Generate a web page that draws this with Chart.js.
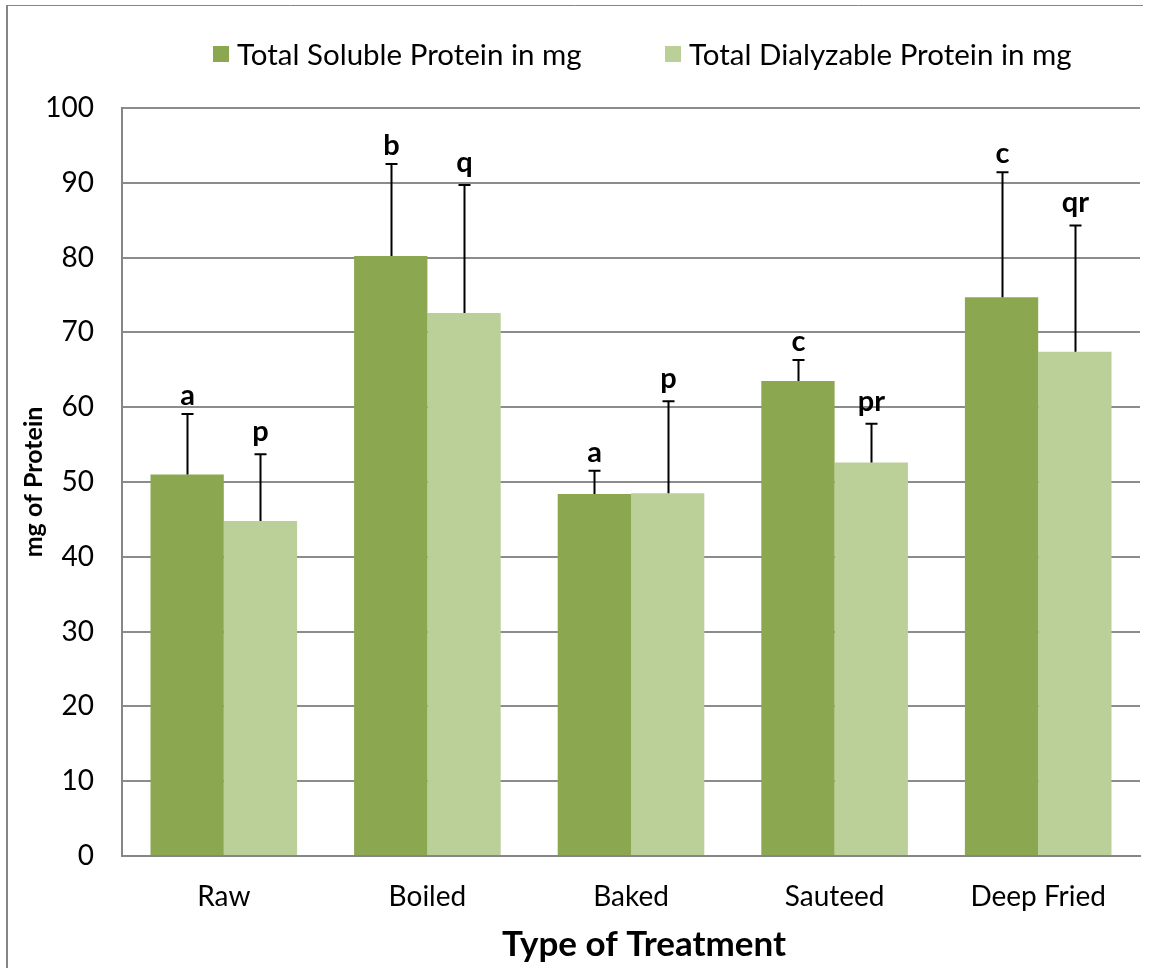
<!DOCTYPE html>
<html>
<head>
<meta charset="utf-8">
<script src="https://cdn.jsdelivr.net/npm/chart.js@4/dist/chart.umd.min.js"></script>
<style>
  html, body { margin: 0; padding: 0; background: #fff; }
  #wrap { position: relative; width: 1153px; height: 968px; }
</style>
</head>
<body>
<div id="wrap"><canvas id="c" width="1153" height="968"></canvas></div>
<script>
const categories = ["Raw", "Boiled", "Baked", "Sauteed", "Deep Fried"];
const seriesNames = ["Total Soluble Protein in mg", "Total Dialyzable Protein in mg"];
const solubleValues = [51.0, 80.2, 48.4, 63.5, 74.7];
const solubleErrors = [8.1, 12.3, 3.1, 2.8, 16.7];
const solubleLetters = ["a", "b", "a", "c", "c"];
const dialyzableValues = [44.8, 72.6, 48.5, 52.6, 67.4];
const dialyzableErrors = [8.9, 17.1, 12.3, 5.2, 16.9];
const dialyzableLetters = ["p", "q", "p", "pr", "qr"];
const yTicks = [0, 10, 20, 30, 40, 50, 60, 70, 80, 90, 100];
const xTitle = "Type of Treatment";
const yTitle = "mg of Protein";

const FONT = "Lato, 'Open Sans', sans-serif";
const colors = ["#8BA750", "#BBCF98"];

const errorBarPlugin = {
  id: "errorBars",
  afterDatasetsDraw(chart) {
    const ctx = chart.ctx;
    const y = chart.scales.y;
    chart.data.datasets.forEach((ds, di) => {
      const meta = chart.getDatasetMeta(di);
      meta.data.forEach((bar, i) => {
        const v = ds.data[i];
        const top = y.getPixelForValue(v + ds.errors[i]);
        const base = y.getPixelForValue(v);
        const x = Math.round(bar.x) + 0.5;
        ctx.save();
        ctx.strokeStyle = "#000";
        ctx.lineWidth = 2;
        ctx.beginPath();
        ctx.moveTo(x, base);
        ctx.lineTo(x, top);
        ctx.moveTo(x - 6, top);
        ctx.lineTo(x + 6, top);
        ctx.stroke();
        ctx.fillStyle = "#000";
        ctx.font = "bold 29px " + FONT;
        ctx.textAlign = "center";
        ctx.textBaseline = "alphabetic";
        const txt = ds.letters[i];
        const off = /[pq]/.test(txt) ? 13 : 9;
        ctx.fillText(txt, x, top - off);
        ctx.restore();
      });
    });
  }
};

const legendPlugin = {
  id: "customLegend",
  afterDraw(chart) {
    const ctx = chart.ctx;
    ctx.save();
    // outer frame
    ctx.strokeStyle = "#868686";
    ctx.lineWidth = 1;
    ctx.beginPath();
    ctx.moveTo(6, 5.5);
    ctx.lineTo(1143, 5.5);
    ctx.stroke();
    ctx.lineWidth = 2;
    ctx.beginPath();
    ctx.moveTo(7, 5);
    ctx.lineTo(7, 968);
    ctx.stroke();
    // legend
    ctx.font = "29.5px " + FONT;
    ctx.textBaseline = "middle";
    ctx.textAlign = "left";
    const items = [{x: 213, name: seriesNames[0], c: colors[0]}, {x: 665, name: seriesNames[1], c: colors[1]}];
    items.forEach(it => {
      ctx.fillStyle = it.c;
      ctx.fillRect(it.x, 46, 16, 16);
      ctx.fillStyle = "#000";
      ctx.fillText(it.name, it.x + 24, 55);
    });
    // x-axis title
    ctx.font = "bold 35px " + FONT;
    ctx.textAlign = "center";
    ctx.fillText(xTitle, 644, 945);
    ctx.restore();
  }
};

new Chart(document.getElementById("c"), {
  type: "bar",
  data: {
    labels: categories,
    datasets: [
      { label: seriesNames[0], data: solubleValues, errors: solubleErrors, letters: solubleLetters,
        backgroundColor: colors[0], categoryPercentage: 0.72, barPercentage: 1.0 },
      { label: seriesNames[1], data: dialyzableValues, errors: dialyzableErrors, letters: dialyzableLetters,
        backgroundColor: colors[1], categoryPercentage: 0.72, barPercentage: 1.0 }
    ]
  },
  options: {
    responsive: false,
    animation: false,
    devicePixelRatio: 1,
    layout: { padding: { top: 108, right: 13, left: 0, bottom: 0 } },
    plugins: { legend: { display: false }, tooltip: { enabled: false } },
    scales: {
      x: {
        grid: { display: false, drawTicks: false },
        border: { display: true, color: "#868686", width: 2 },
        ticks: { color: "#000", font: { family: FONT, size: 28 }, padding: 24 },
        afterFit(s) { s.height = 112; }
      },
      y: {
        min: 0, max: 100,
        afterBuildTicks(s) { s.ticks = yTicks.map(v => ({ value: v })); },
        grid: { color: "#8C8C8C", lineWidth: 2, drawTicks: false },
        border: { display: true, color: "#868686", width: 2 },
        ticks: { color: "#000", font: { family: FONT, size: 28 }, padding: 28 },
        title: { display: true, text: yTitle, color: "#000",
                 font: { family: FONT, size: 25, weight: "bold" }, padding: { top: 19, bottom: 0 } },
        afterFit(s) { s.width = 122; }
      }
    }
  },
  plugins: [errorBarPlugin, legendPlugin]
});
</script>
</body>
</html>
